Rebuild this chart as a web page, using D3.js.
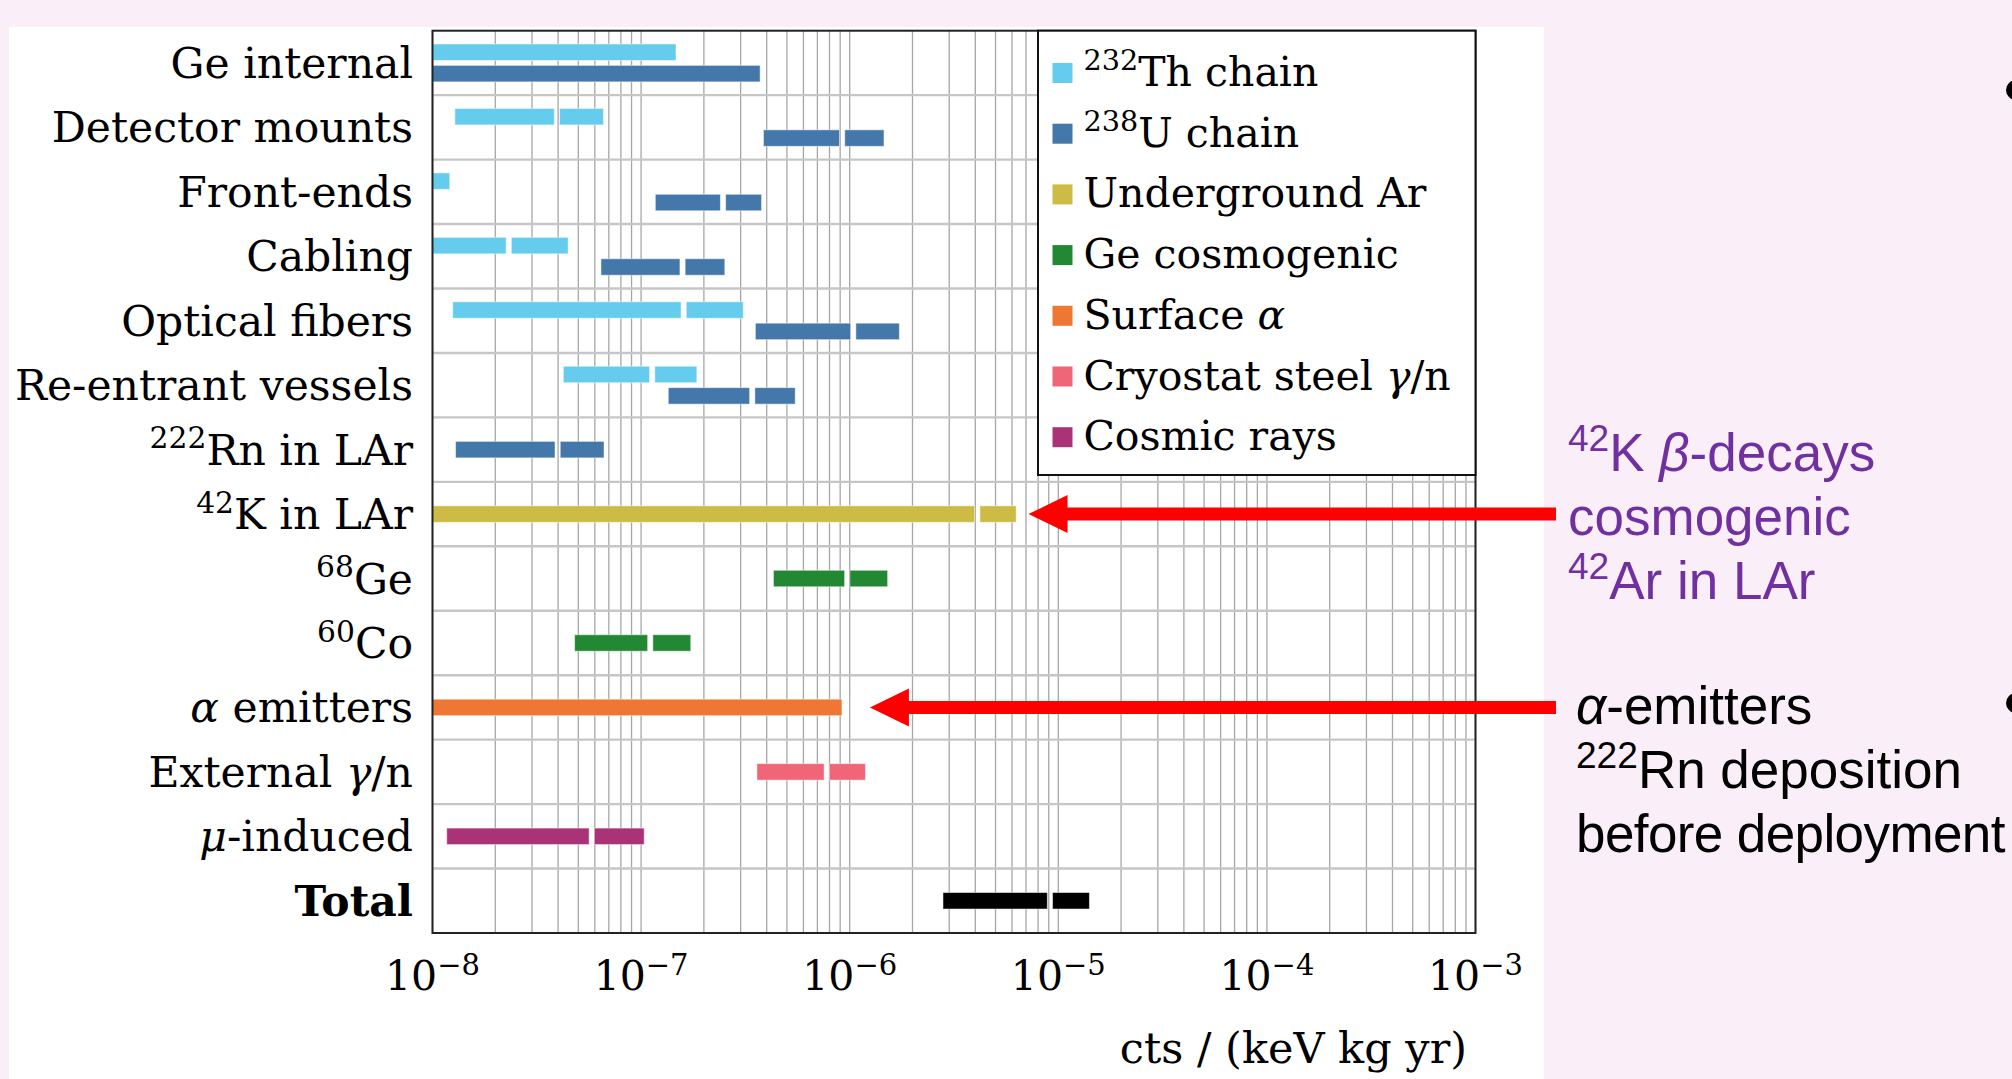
<!DOCTYPE html>
<html lang="en">
<head>
<meta charset="utf-8">
<title>Background budget</title>
<script src="https://cdn.jsdelivr.net/npm/d3@7"></script>
<style>
  body { margin: 0; background: #faeef8; }
  svg { display: block; }
  .lbl { font-family: "DejaVu Serif", serif; font-size: 41px; fill: #000; }
  .note { font-family: "Liberation Sans", Arial, sans-serif; font-size: 53px; }
</style>
</head>
<body>
<div id="chart"></div>
<script>
// rows, top to bottom
const categories = ["Ge internal", "Detector mounts", "Front-ends", "Cabling", "Optical fibers",
  "Re-entrant vessels", "222Rn in LAr", "42K in LAr", "68Ge", "60Co", "α emitters",
  "External γ/n", "μ-induced", "Total"];

// legend entries
const sources = ["232Th chain", "238U chain", "Underground Ar", "Ge cosmogenic",
  "Surface α", "Cryostat steel γ/n", "Cosmic rays"];

// bars per source: [row, low, split, high]  (split = null -> one piece)
const th232 = [
  ["Ge internal", 1e-8, null, 1.47e-7],
  ["Detector mounts", 1.28e-8, 3.95e-8, 6.6e-8],
  ["Front-ends", 1e-8, null, 1.21e-8],
  ["Cabling", 1e-8, 2.32e-8, 4.47e-8],
  ["Optical fibers", 1.25e-8, 1.6e-7, 3.09e-7],
  ["Re-entrant vessels", 4.24e-8, 1.13e-7, 1.85e-7]
];
const u238 = [
  ["Ge internal", 1e-8, null, 3.72e-7],
  ["Detector mounts", 3.86e-7, 9.2e-7, 1.46e-6],
  ["Front-ends", 1.17e-7, 2.47e-7, 3.78e-7],
  ["Cabling", 6.42e-8, 1.58e-7, 2.52e-7],
  ["Optical fibers", 3.53e-7, 1.04e-6, 1.73e-6],
  ["Re-entrant vessels", 1.35e-7, 3.41e-7, 5.48e-7],
  ["222Rn in LAr", 1.29e-8, 3.98e-8, 6.64e-8]
];
const undergroundAr = [["42K in LAr", 1e-8, 4.09e-6, 6.28e-6]];
const geCosmogenic = [
  ["68Ge", 4.31e-7, 9.73e-7, 1.52e-6],
  ["60Co", 4.8e-8, 1.106e-7, 1.73e-7]
];
const surfaceAlpha = [["α emitters", 1e-8, null, 9.18e-7]];
const cryostatSteel = [["External γ/n", 3.59e-7, 7.76e-7, 1.19e-6]];
const cosmicRays = [["μ-induced", 1.17e-8, 5.8e-8, 1.035e-7]];
const total = [["Total", 2.8e-6, 9.12e-6, 1.41e-5]];

// x axis decades
const decades = [1e-8, 1e-7, 1e-6, 1e-5, 1e-4, 1e-3];

// arrows from the side notes: [row, value the tip points at]
const arrows = [["42K in LAr", 7.2e-6], ["α emitters", 1.25e-6]];

const series = [th232, u238, undergroundAr, geCosmogenic, surfaceAlpha, cryostatSteel, cosmicRays, total];
const colors = ["#66ccee", "#4477aa", "#ccbb44", "#228833", "#ee7733", "#ee6677", "#aa3377", "#000000"];

const W = 2012, H = 1079;
const plotL = 432.5, plotR = 1475.5, plotT = 30.7, plotB = 933;

const svg = d3.select("#chart").append("svg")
  .attr("width", W).attr("height", H);

// white panel on the pink slide
svg.append("rect").attr("x", 9).attr("y", 27).attr("width", 1535).attr("height", H - 27).attr("fill", "#fff");

const x = d3.scaleLog().domain([1e-8, 1e-3]).range([plotL, plotR]);
const y = d3.scaleBand().domain(categories).range([plotT, plotB]);

// writes text with leading isotope numbers as superscript, greek in italic
function richText(t, str, size) {
  const m = str.match(/^(\d+)(.*)$/);
  let rest = str;
  let shift = 0;
  if (m) {
    shift = size * 0.38;
    t.append("tspan").style("font-size", size * 0.7 + "px").attr("dy", -shift).text(m[1]);
    rest = m[2];
  }
  rest.split(/([αβγμ])/).filter(s => s.length).forEach(s => {
    const sp = t.append("tspan").text(s);
    if (shift) { sp.attr("dy", shift); shift = 0; }
    if (/[αβγμ]/.test(s)) sp.attr("font-style", "italic");
  });
}

// grid
const grid = svg.append("g");
grid.selectAll(".v").data(x.ticks()).enter().append("line")
  .attr("x1", d => x(d)).attr("x2", d => x(d))
  .attr("y1", plotT).attr("y2", plotB)
  .attr("stroke", "#a6a6a6").attr("stroke-width", 1.3);
grid.selectAll(".h").data(categories.slice(1)).enter().append("line")
  .attr("x1", plotL).attr("x2", plotR)
  .attr("y1", d => y(d)).attr("y2", d => y(d))
  .attr("stroke", "#c6c6c6").attr("stroke-width", 2.4);

// bars
const barH = 16.5, barOff = 10.7, gap = 2.6;
const rowsUsed = {};
series.forEach((s, si) => s.forEach(b => {
  (rowsUsed[b[0]] = rowsUsed[b[0]] || []).push(si);
}));

const barsG = svg.append("g");
series.forEach((s, si) => {
  s.forEach(b => {
    const [row, lo, mid, hi] = b;
    const list = rowsUsed[row];
    let cy = y(row) + y.bandwidth() / 2;
    if (list.length === 2) cy += list.indexOf(si) === 0 ? -barOff : barOff;
    const pieces = mid === null ? [[x(lo), x(hi)]] : [[x(lo), x(mid) - gap], [x(mid) + gap, x(hi)]];
    pieces.forEach(p => {
      barsG.append("rect")
        .attr("x", p[0]).attr("y", cy - barH / 2)
        .attr("width", p[1] - p[0]).attr("height", barH)
        .attr("fill", colors[si])
        .attr("stroke", "#fff").attr("stroke-opacity", 0.5).attr("stroke-width", 1);
    });
  });
});

// frame
svg.append("rect").attr("x", plotL).attr("y", plotT)
  .attr("width", plotR - plotL).attr("height", plotB - plotT)
  .attr("fill", "none").attr("stroke", "#222").attr("stroke-width", 2);

// y labels
categories.forEach(c => {
  const t = svg.append("text").attr("class", "lbl").style("font-size", "42.5px")
    .attr("x", 413).attr("y", y(c) + y.bandwidth() / 2 + 15)
    .attr("text-anchor", "end");
  if (c === "Total") t.attr("font-weight", "bold");
  richText(t, c, 42.5);
});

// x tick labels
decades.forEach(d => {
  const t = svg.append("text").attr("class", "lbl")
    .attr("x", x(d)).attr("y", 990).attr("text-anchor", "middle");
  t.append("tspan").text("10");
  t.append("tspan").style("font-size", "29px").attr("dy", -15).text("−" + (-Math.round(Math.log10(d))));
});
svg.append("text").attr("class", "lbl").style("font-size", "43px")
  .attr("x", 1467).attr("y", 1063).attr("text-anchor", "end")
  .text("cts / (keV kg yr)");

// legend
const lg = svg.append("g");
lg.append("rect").attr("x", 1038).attr("y", plotT).attr("width", plotR - 1038).attr("height", 475 - plotT)
  .attr("fill", "#fff").attr("stroke", "#111").attr("stroke-width", 2);
sources.forEach((s, i) => {
  const cy = 73 + i * 60.7;
  lg.append("rect").attr("x", 1052.5).attr("y", cy - 10).attr("width", 20).attr("height", 20)
    .attr("fill", colors[i]);
  const t = lg.append("text").attr("class", "lbl").attr("x", 1083.5).attr("y", cy + 13);
  richText(t, s, 41);
});

// red arrows
arrows.forEach(a => {
  const cy = y(a[0]) + y.bandwidth() / 2;
  const tip = x(a[1]), tail = 1556, head = 39, hh = 19, sh = 6.5;
  svg.append("path")
    .attr("d", `M${tip},${cy} L${tip + head},${cy - hh} L${tip + head},${cy - sh} L${tail},${cy - sh}
      L${tail},${cy + sh} L${tip + head},${cy + sh} L${tip + head},${cy + hh} Z`)
    .attr("fill", "#ff0000");
});

// side notes
const purple = "#7030a0";
[["42K β-decays", 471], ["cosmogenic", 535], ["42Ar in LAr", 599]].forEach(n => {
  const t = svg.append("text").attr("class", "note").attr("fill", purple)
    .attr("x", 1568).attr("y", n[1]);
  richText(t, n[0], 53);
});
[["α-emitters", 724], ["222Rn deposition", 788], ["before deployment", 852]].forEach(n => {
  const t = svg.append("text").attr("class", "note").attr("fill", "#000")
    .attr("x", 1576).attr("y", n[1]);
  if (n[0] === "before deployment") t.attr("letter-spacing", -0.6);
  richText(t, n[0], 53);
});

// bullets cut at the slide edge
[90, 703].forEach(cy => {
  svg.append("circle").attr("cx", 2016).attr("cy", cy).attr("r", 10).attr("fill", "#000");
});
</script>
</body>
</html>
